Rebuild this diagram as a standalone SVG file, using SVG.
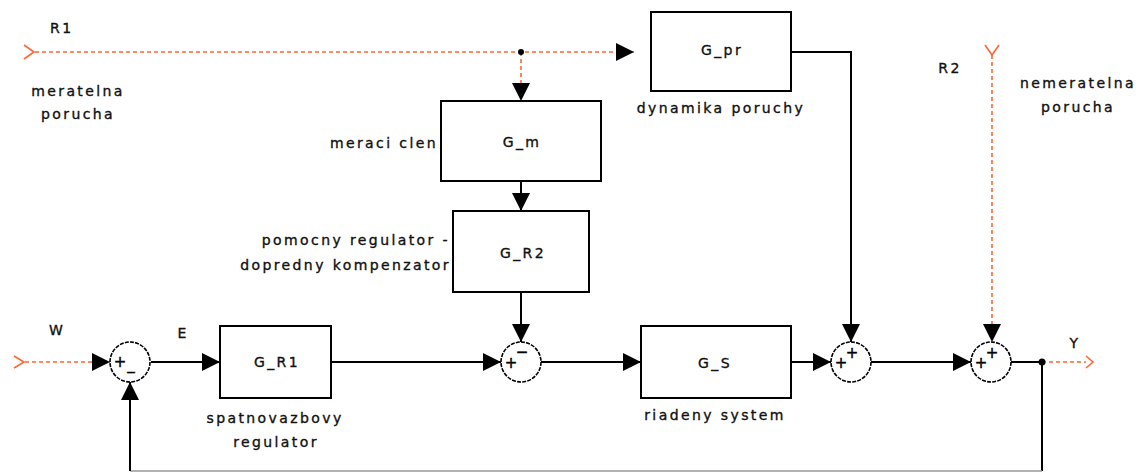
<svg xmlns="http://www.w3.org/2000/svg" width="1141" height="472" viewBox="0 0 1141 472">
<style>
.box{fill:#fff;stroke:#000;stroke-width:2}
.sum{fill:#fff;stroke:#000;stroke-width:1.6;stroke-dasharray:4 1.2}
.t{font-family:"DejaVu Sans",sans-serif;font-size:14px;letter-spacing:2.4px;fill:#111;stroke:#111;stroke-width:0.35}
.c{text-anchor:middle}
.e{text-anchor:end}
.sg{font-family:"DejaVu Sans",sans-serif;font-size:15px;fill:#000;stroke:#000;stroke-width:0.4;text-anchor:middle}
.w{fill:none;stroke:#000;stroke-width:2}
.d{fill:none;stroke:#ff6633;stroke-width:1.6;stroke-dasharray:4 3}
.ch{fill:none;stroke:#ff6633;stroke-width:1.6}
</style>
<defs>
<marker id="ar" markerUnits="userSpaceOnUse" markerWidth="19" markerHeight="18" refX="18" refY="9" orient="auto">
<path d="M0,0 L18,9 L0,18 Z" fill="#000"/>
</marker>
</defs>

<g id="connectors">
<path class="d" d="M35,52 H634" marker-end="url(#ar)"/>
<path class="d" d="M521,52 V101" marker-end="url(#ar)"/>
<path class="w" d="M521,181 V211" marker-end="url(#ar)"/>
<path class="w" d="M521,292 V342" marker-end="url(#ar)"/>
<path class="d" d="M25,362 H110" marker-end="url(#ar)"/>
<path class="w" d="M151,362 H220" marker-end="url(#ar)"/>
<path class="w" d="M331,362 H501" marker-end="url(#ar)"/>
<path class="w" d="M541,362 H641" marker-end="url(#ar)"/>
<path class="w" d="M791,362 H831" marker-end="url(#ar)"/>
<path class="w" d="M791,52 H851 V342" marker-end="url(#ar)"/>
<path class="w" d="M871,362 H971" marker-end="url(#ar)"/>
<path class="d" d="M992,55 V342" marker-end="url(#ar)"/>
<path class="w" d="M1011,362 H1042"/>
<path class="d" d="M1042,362 H1086"/>
<path class="w" d="M1042,362 V471"/>
<path fill="none" stroke="#999" stroke-width="1.5" d="M1042,471 H130"/>
<path class="w" d="M130,471 V382" marker-end="url(#ar)"/>
<circle cx="521" cy="52" r="3" fill="#000"/>
<circle cx="1042" cy="362" r="3.5" fill="#000"/>
</g>

<g id="R1">
<polyline class="ch" points="24,45 34,52 24,59"/>
<text class="t" x="50" y="33">R1</text>
<text class="t c" x="78" y="96">meratelna</text>
<text class="t c" x="78" y="119">porucha</text>
</g>

<g id="W">
<polyline class="ch" points="14,356 24,362 14,368"/>
<text class="t c" x="57" y="335">W</text>
</g>

<g id="E">
<text class="t c" x="183" y="338">E</text>
</g>

<g id="G_pr">
<rect class="box" x="651" y="12" width="140" height="79"/>
<text class="t c" x="722" y="55">G_pr</text>
<text class="t c" x="721" y="113">dynamika poruchy</text>
</g>

<g id="G_m">
<rect class="box" x="441" y="101" width="160" height="80"/>
<text class="t c" x="522" y="147">G_m</text>
<text class="t e" x="438" y="148">meraci clen</text>
</g>

<g id="G_R2">
<rect class="box" x="453" y="211" width="136" height="81"/>
<text class="t c" x="523" y="258">G_R2</text>
<text class="t e" x="450" y="245">pomocny regulator -</text>
<text class="t e" x="451" y="270">dopredny kompenzator</text>
</g>

<g id="G_R1">
<rect class="box" x="220" y="326" width="111" height="72"/>
<text class="t c" x="277" y="367">G_R1</text>
<text class="t c" x="275" y="423">spatnovazbovy</text>
<text class="t c" x="276" y="447">regulator</text>
</g>

<g id="G_S">
<rect class="box" x="641" y="326" width="150" height="72"/>
<text class="t c" x="715" y="368">G_S</text>
<text class="t c" x="715" y="420">riadeny system</text>
</g>

<g id="sum1">
<circle class="sum" cx="130" cy="362" r="20"/>
<text class="sg" x="120" y="367">+</text>
<text class="sg" x="131" y="369">_</text>
</g>

<g id="sum2">
<circle class="sum" cx="521" cy="362" r="20"/>
<text class="sg" x="511" y="368">+</text>
<text class="sg" x="522" y="357">−</text>
</g>

<g id="sum3">
<circle class="sum" cx="851" cy="362" r="20"/>
<text class="sg" x="841" y="368">+</text>
<text class="sg" x="852" y="358">+</text>
</g>

<g id="sum4">
<circle class="sum" cx="991" cy="362" r="20"/>
<text class="sg" x="981" y="368">+</text>
<text class="sg" x="992" y="358">+</text>
</g>

<g id="R2">
<polyline class="ch" points="985,45 992,55 999,45"/>
<text class="t c" x="950" y="73">R2</text>
<text class="t c" x="1078" y="88">nemeratelna</text>
<text class="t c" x="1078" y="112">porucha</text>
</g>

<g id="Y">
<polyline class="ch" points="1086,356 1093,362 1086,368"/>
<text class="t c" x="1075" y="348">Y</text>
</g>
</svg>
